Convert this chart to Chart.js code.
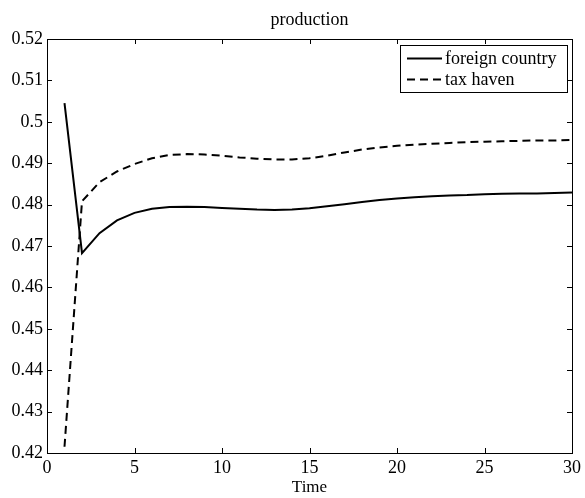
<!DOCTYPE html>
<html>
<head>
<meta charset="utf-8">
<script src="https://cdn.jsdelivr.net/npm/chart.js@4.4.1/dist/chart.umd.min.js"></script>
<style>
    html, body { margin: 0; padding: 0; background: #fff; }
    #wrap { width: 585px; height: 498px; }
</style>
</head>
<body>
<div id="wrap"><canvas id="myChart"></canvas></div>
<script>
// time steps
const timeSteps = [1, 2, 3, 4, 5, 6, 7, 8, 9, 10, 11, 12, 13, 14, 15,
    16, 17, 18, 19, 20, 21, 22, 23, 24, 25, 26, 27, 28, 29, 30];

// production, foreign country
const foreignCountry = [0.5045, 0.4683, 0.4731, 0.4762, 0.4780, 0.4790, 0.4794, 0.4795, 0.4794, 0.4792,
    0.4790, 0.4788, 0.4787, 0.4788, 0.4791, 0.4796, 0.4801, 0.4806, 0.4811, 0.4815,
    0.4818, 0.4820, 0.4822, 0.4823, 0.4825, 0.4826, 0.4827, 0.4827, 0.4828, 0.4829];

// production, tax haven
const taxHaven = [0.4215, 0.4808, 0.4854, 0.4880, 0.4898, 0.4912, 0.4920, 0.4922, 0.4921, 0.4918,
    0.4914, 0.4911, 0.4909, 0.4909, 0.4912, 0.4918, 0.4926, 0.4933, 0.4938, 0.4942,
    0.4945, 0.4947, 0.4949, 0.4951, 0.4952, 0.4953, 0.4954, 0.4955, 0.4955, 0.4956];

const xTicks = [0, 5, 10, 15, 20, 25, 30];
const yTicks = [0.42, 0.43, 0.44, 0.45, 0.46, 0.47, 0.48, 0.49, 0.5, 0.51, 0.52];

const titleText = "production";
const xLabel = "Time";
const seriesNames = ["foreign country", "tax haven"];

const FONT = "Liberation Serif, Times New Roman, serif";

function toPoints(ys) {
    var pts = [];
    for (var i = 0; i < timeSteps.length; i++) {
        pts.push({ x: timeSteps[i], y: ys[i] });
    }
    return pts;
}

// box, inward ticks, title, x label and legend in MATLAB style
const matlabFrame = {
    id: "matlabFrame",
    afterDraw(chart) {
        const ctx = chart.ctx;
        const a = chart.chartArea;
        const xs = chart.scales.x;
        const ys = chart.scales.y;
        const tl = 5;

        ctx.save();
        ctx.strokeStyle = "#000";
        ctx.lineWidth = 1;
        ctx.beginPath();
        xTicks.forEach(function (v) {
            const px = Math.round(xs.getPixelForValue(v)) + 0.5;
            ctx.moveTo(px, a.bottom); ctx.lineTo(px, a.bottom - tl);
            ctx.moveTo(px, a.top); ctx.lineTo(px, a.top + tl);
        });
        yTicks.forEach(function (v) {
            const py = Math.round(ys.getPixelForValue(v)) + 0.5;
            ctx.moveTo(a.left, py); ctx.lineTo(a.left + tl, py);
            ctx.moveTo(a.right, py); ctx.lineTo(a.right - tl, py);
        });
        ctx.stroke();
        ctx.strokeRect(Math.round(a.left) + 0.5, Math.round(a.top) + 0.5,
            Math.round(a.right - a.left), Math.round(a.bottom - a.top));

        // title and axis label
        ctx.fillStyle = "#000";
        ctx.font = "18px " + FONT;
        ctx.textAlign = "center";
        ctx.textBaseline = "alphabetic";
        const cx = (a.left + a.right) / 2;
        ctx.fillText(titleText, cx, 25);
        ctx.font = "17px " + FONT;
        ctx.fillText(xLabel, cx, 492);

        // legend box
        const lx = 400, ly = 45, lw = 167, lh = 47;
        ctx.fillStyle = "#fff";
        ctx.fillRect(lx, ly, lw, lh);
        ctx.strokeRect(lx + 0.5, ly + 0.5, lw, lh);
        const rows = [58.5, 79.5];
        const dashes = [[], [8, 5]];
        ctx.lineWidth = 2;
        for (var i = 0; i < rows.length; i++) {
            ctx.setLineDash(dashes[i]);
            ctx.beginPath();
            ctx.moveTo(407, rows[i]);
            ctx.lineTo(442, rows[i]);
            ctx.stroke();
        }
        ctx.setLineDash([]);
        ctx.fillStyle = "#000";
        ctx.font = "18px " + FONT;
        ctx.textAlign = "left";
        ctx.textBaseline = "middle";
        for (var j = 0; j < rows.length; j++) {
            ctx.fillText(seriesNames[j], 445, rows[j] + 1);
        }
        ctx.restore();
    },
};

const data = {
    datasets: [
        {
            label: seriesNames[0],
            data: toPoints(foreignCountry),
            borderColor: "#000",
            borderWidth: 2,
            pointRadius: 0,
            tension: 0,
            fill: false,
        },
        {
            label: seriesNames[1],
            data: toPoints(taxHaven),
            borderColor: "#000",
            borderWidth: 2,
            borderDash: [8, 5],
            pointRadius: 0,
            tension: 0,
            fill: false,
        },
    ],
};

const config = {
    type: "line",
    data,
    options: {
        responsive: true,
        maintainAspectRatio: false,
        animation: false,
        layout: { padding: { left: 0, right: 12, top: 39, bottom: 0 } },
        plugins: {
            legend: { display: false },
            tooltip: { enabled: false },
            title: { display: false },
        },
        scales: {
            x: {
                type: "linear",
                min: 0,
                max: 30,
                afterBuildTicks: function (s) { s.ticks = xTicks.map(function (v) { return { value: v }; }); },
                afterFit: function (s) { s.height = 45; },
                grid: { display: false, drawTicks: false },
                border: { display: false },
                ticks: {
                    color: "#000",
                    padding: 4,
                    maxRotation: 0,
                    font: { family: FONT, size: 18 },
                    callback: function (v) { return String(+v.toFixed(2)); },
                },
            },
            y: {
                type: "linear",
                min: 0.42,
                max: 0.52,
                afterBuildTicks: function (s) { s.ticks = yTicks.map(function (v) { return { value: v }; }); },
                afterFit: function (s) { s.width = 47; },
                grid: { display: false, drawTicks: false },
                border: { display: false },
                ticks: {
                    color: "#000",
                    padding: 4,
                    font: { family: FONT, size: 18 },
                    callback: function (v) { return String(+v.toFixed(2)); },
                },
            },
        },
    },
    plugins: [matlabFrame],
};

var myChart = new Chart(document.getElementById("myChart"), config);
</script>
</body>
</html>
